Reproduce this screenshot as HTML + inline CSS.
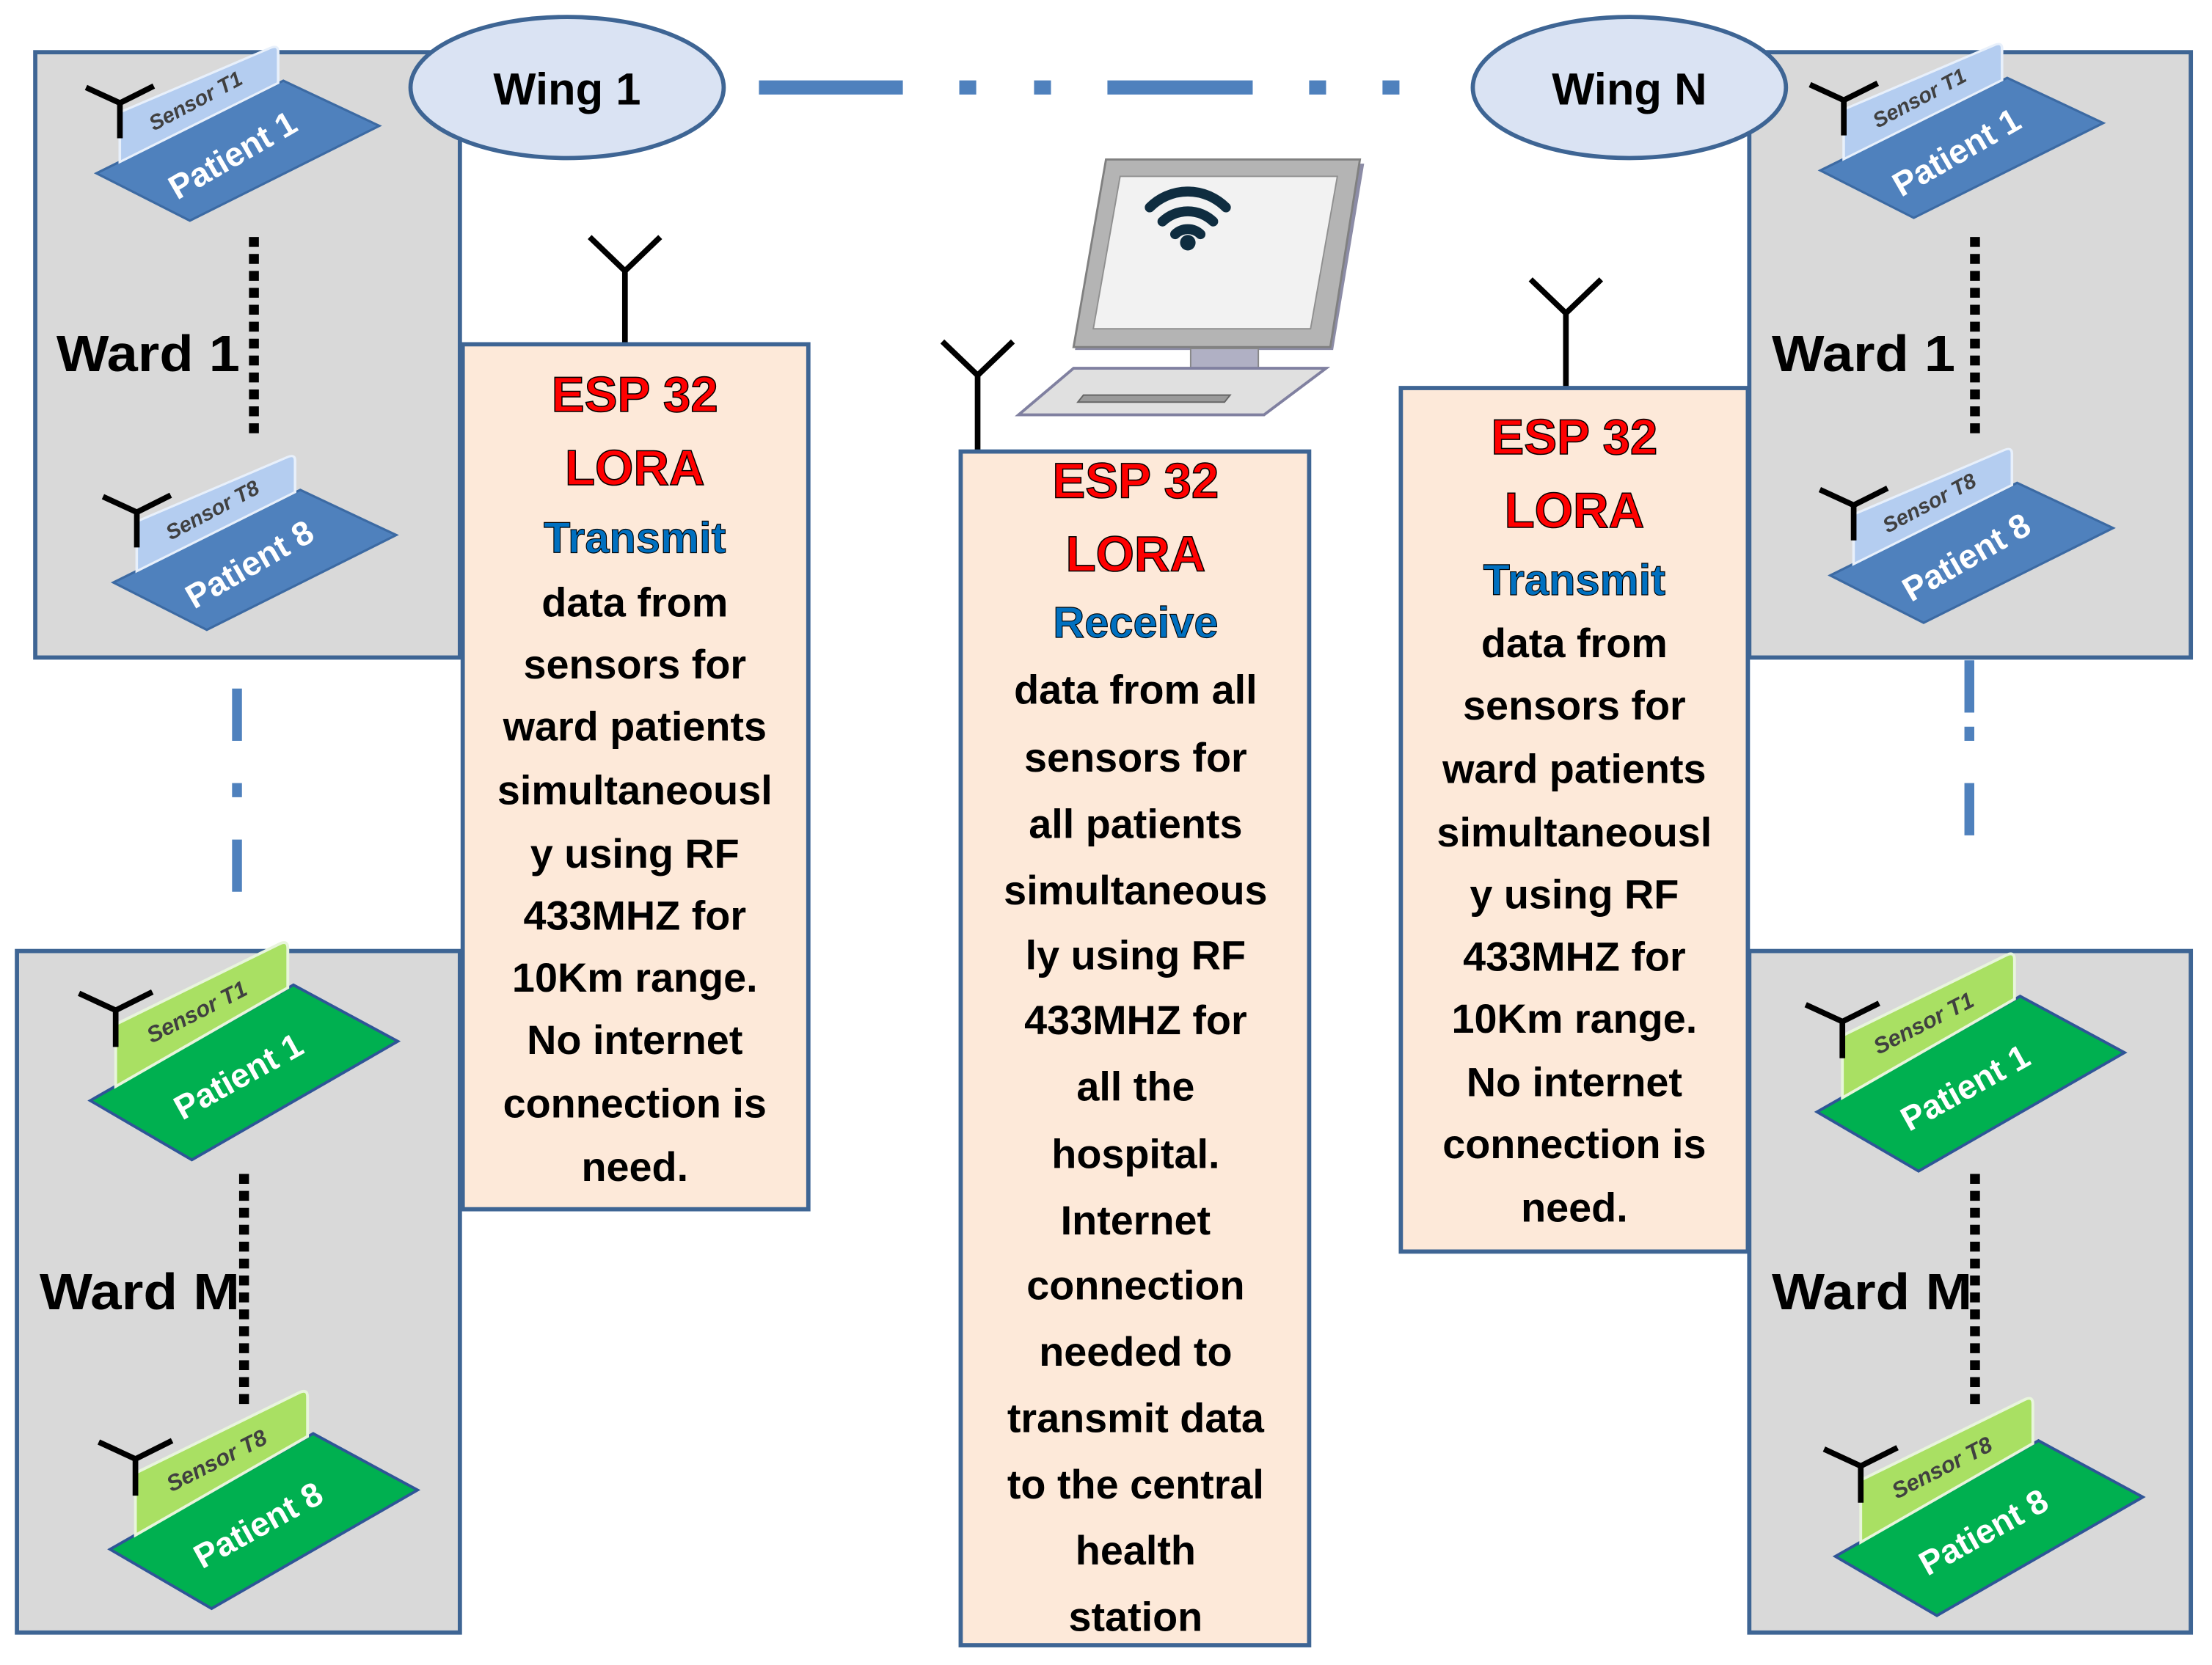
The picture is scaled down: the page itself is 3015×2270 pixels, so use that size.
<!DOCTYPE html>
<html><head><meta charset="utf-8"><style>
html,body{margin:0;padding:0;background:#fff}
svg{display:block}
text{font-family:"Liberation Sans",sans-serif;font-weight:bold}
</style></head><body>
<svg width="3015" height="2270" viewBox="0 0 1568 1180" preserveAspectRatio="none" xmlns="http://www.w3.org/2000/svg">
<defs>
<g id="cardG">
  <polygon points="8,76 152,-6 226,34 80,118" fill="#00b050" stroke="#2f5597" stroke-width="2"/>
  <path d="M26,66 L26,22 L142,-35 Q148,-38 148,-32 L148,-4 Z" fill="#a9e063" stroke="#e8f5dc" stroke-width="2"/>
  <polyline points="0,0 26,12 52,-1" fill="none" stroke="#000" stroke-width="4"/>
  <line x1="26" y1="12" x2="26" y2="38" stroke="#000" stroke-width="4"/>
</g>
<g id="baseB">
  <polygon points="8,76 152,-6 226,34 80,118" fill="#4f81bd" stroke="#3c6aa3" stroke-width="2"/>
  <path d="M26,66 L26,22 L142,-35 Q148,-38 148,-32 L148,-4 Z" fill="#b4cdf0" stroke="#e8f0fb" stroke-width="2"/>
</g>
</defs>

<!-- ward boxes -->
<rect x="25" y="37" width="301" height="429" fill="#d9d9d9" stroke="#3e6594" stroke-width="3"/>
<rect x="12" y="674" width="314" height="483" fill="#d9d9d9" stroke="#3e6594" stroke-width="3"/>
<rect x="1240" y="37" width="313" height="429" fill="#d9d9d9" stroke="#3e6594" stroke-width="3"/>
<rect x="1240" y="674" width="313" height="483" fill="#d9d9d9" stroke="#3e6594" stroke-width="3"/>

<!-- ellipses -->
<ellipse cx="402" cy="62" rx="111" ry="50" fill="#dae3f3" stroke="#3e6594" stroke-width="3"/>
<text x="402" y="74" font-size="32" text-anchor="middle" fill="#000">Wing 1</text>
<ellipse cx="1155" cy="62" rx="111" ry="50" fill="#dae3f3" stroke="#3e6594" stroke-width="3"/>
<text x="1155" y="74" font-size="32" text-anchor="middle" fill="#000">Wing N</text>

<!-- dashed connector -->
<g stroke="#4f81bd" stroke-width="10">
<line x1="538" y1="62" x2="640" y2="62"/><line x1="680" y1="62" x2="692" y2="62"/><line x1="733" y1="62" x2="745" y2="62"/>
<line x1="785" y1="62" x2="888" y2="62"/><line x1="928" y1="62" x2="940" y2="62"/><line x1="980" y1="62" x2="992" y2="62"/>
</g>
<g stroke="#4f81bd" stroke-width="7">
<line x1="168" y1="488" x2="168" y2="525"/><line x1="168" y1="555" x2="168" y2="565"/><line x1="168" y1="595" x2="168" y2="632"/>
<line x1="1396" y1="468" x2="1396" y2="505"/><line x1="1396" y1="515" x2="1396" y2="525"/><line x1="1396" y1="555" x2="1396" y2="592"/>
</g>

<!-- dotted black lines -->
<g stroke="#000" stroke-width="7" stroke-dasharray="7,5">
<line x1="180" y1="168" x2="180" y2="312"/>
<line x1="173" y1="832" x2="173" y2="995"/>
<line x1="1400" y1="168" x2="1400" y2="312"/>
<line x1="1400" y1="832" x2="1400" y2="995"/>
</g>

<text x="40" y="263" font-size="36" fill="#000" textLength="130" lengthAdjust="spacingAndGlyphs">Ward 1</text>
<text x="28" y="928" font-size="36" fill="#000" textLength="142" lengthAdjust="spacingAndGlyphs">Ward M</text>
<text x="1256" y="263" font-size="36" fill="#000" textLength="130" lengthAdjust="spacingAndGlyphs">Ward 1</text>
<text x="1256" y="928" font-size="36" fill="#000" textLength="142" lengthAdjust="spacingAndGlyphs">Ward M</text>

<!-- blue cards (scaled) -->
<g transform="translate(61,62)">
  <g transform="scale(0.92,0.8)"><use href="#baseB"/></g>
  <text x="80" y="14" transform="rotate(-28 80 14)" font-size="15" font-style="italic" font-weight="normal" fill="#404040" text-anchor="middle">Sensor T1</text>
  <text x="108" y="55" transform="rotate(-30 108 55)" font-size="24" fill="#fff" text-anchor="middle">Patient 1</text>
  <polyline points="0,0 24,11 48,-1" fill="none" stroke="#000" stroke-width="4"/><line x1="24" y1="11" x2="24" y2="36" stroke="#000" stroke-width="4"/>
</g>
<g transform="translate(73,352)">
  <g transform="scale(0.92,0.8)"><use href="#baseB"/></g>
  <text x="80" y="14" transform="rotate(-28 80 14)" font-size="15" font-style="italic" font-weight="normal" fill="#404040" text-anchor="middle">Sensor T8</text>
  <text x="108" y="55" transform="rotate(-30 108 55)" font-size="24" fill="#fff" text-anchor="middle">Patient 8</text>
  <polyline points="0,0 24,11 48,-1" fill="none" stroke="#000" stroke-width="4"/><line x1="24" y1="11" x2="24" y2="36" stroke="#000" stroke-width="4"/>
</g>
<g transform="translate(1283,60)">
  <g transform="scale(0.92,0.8)"><use href="#baseB"/></g>
  <text x="80" y="14" transform="rotate(-28 80 14)" font-size="15" font-style="italic" font-weight="normal" fill="#404040" text-anchor="middle">Sensor T1</text>
  <text x="108" y="55" transform="rotate(-30 108 55)" font-size="24" fill="#fff" text-anchor="middle">Patient 1</text>
  <polyline points="0,0 24,11 48,-1" fill="none" stroke="#000" stroke-width="4"/><line x1="24" y1="11" x2="24" y2="36" stroke="#000" stroke-width="4"/>
</g>
<g transform="translate(1290,347)">
  <g transform="scale(0.92,0.8)"><use href="#baseB"/></g>
  <text x="80" y="14" transform="rotate(-28 80 14)" font-size="15" font-style="italic" font-weight="normal" fill="#404040" text-anchor="middle">Sensor T8</text>
  <text x="108" y="55" transform="rotate(-30 108 55)" font-size="24" fill="#fff" text-anchor="middle">Patient 8</text>
  <polyline points="0,0 24,11 48,-1" fill="none" stroke="#000" stroke-width="4"/><line x1="24" y1="11" x2="24" y2="36" stroke="#000" stroke-width="4"/>
</g>

<g transform="translate(56,704)"><use href="#cardG"/><text x="86" y="18" transform="rotate(-27 86 18)" font-size="16" font-style="italic" font-weight="normal" fill="#404040" text-anchor="middle">Sensor T1</text><text x="117" y="66" transform="rotate(-29 117 66)" font-size="24" fill="#fff" text-anchor="middle">Patient 1</text></g>
<g transform="translate(70,1022)"><use href="#cardG"/><text x="86" y="18" transform="rotate(-27 86 18)" font-size="16" font-style="italic" font-weight="normal" fill="#404040" text-anchor="middle">Sensor T8</text><text x="117" y="66" transform="rotate(-29 117 66)" font-size="24" fill="#fff" text-anchor="middle">Patient 8</text></g>
<g transform="translate(1280,712)"><use href="#cardG"/><text x="86" y="18" transform="rotate(-27 86 18)" font-size="16" font-style="italic" font-weight="normal" fill="#404040" text-anchor="middle">Sensor T1</text><text x="117" y="66" transform="rotate(-29 117 66)" font-size="24" fill="#fff" text-anchor="middle">Patient 1</text></g>
<g transform="translate(1293,1027)"><use href="#cardG"/><text x="86" y="18" transform="rotate(-27 86 18)" font-size="16" font-style="italic" font-weight="normal" fill="#404040" text-anchor="middle">Sensor T8</text><text x="117" y="66" transform="rotate(-29 117 66)" font-size="24" fill="#fff" text-anchor="middle">Patient 8</text></g>

<!-- antennas for ESP boxes -->
<g stroke="#000" stroke-width="4" fill="none">
<polyline points="418,168 443,192 468,168"/><line x1="443" y1="192" x2="443" y2="244"/>
<polyline points="668,242 693,266 718,242"/><line x1="693" y1="266" x2="693" y2="320"/>
<polyline points="1085,198 1110,222 1135,198"/><line x1="1110" y1="222" x2="1110" y2="275"/>
</g>

<!-- ESP boxes -->
<rect x="328" y="244" width="245" height="613" fill="#fde9d9" stroke="#3e6594" stroke-width="3"/>
<rect x="681" y="320" width="247" height="846" fill="#fde9d9" stroke="#3e6594" stroke-width="3"/>
<rect x="993" y="275" width="246" height="612" fill="#fde9d9" stroke="#3e6594" stroke-width="3"/>

<g text-anchor="middle" dominant-baseline="central">
<g font-size="35" fill="#ff0000" stroke="#000" stroke-width="0.8">
<text x="450" y="280">ESP 32</text><text x="450" y="332">LORA</text>
<text x="805" y="341">ESP 32</text><text x="805" y="393">LORA</text>
<text x="1116" y="310">ESP 32</text><text x="1116" y="362">LORA</text>
</g>
<g font-size="31" fill="#0070c0" stroke="#000" stroke-width="0.6">
<text x="450" y="381">Transmit</text>
<text x="805" y="441">Receive</text>
<text x="1116" y="411">Transmit</text>
</g>
<g font-size="29" fill="#000">
<text x="450" y="427">data from</text>
<text x="450" y="471">sensors for</text>
<text x="450" y="515">ward patients</text>
<text x="450" y="560">simultaneousl</text>
<text x="450" y="605">y using RF</text>
<text x="450" y="649">433MHZ for</text>
<text x="450" y="693">10Km range.</text>
<text x="450" y="737">No  internet</text>
<text x="450" y="782">connection is</text>
<text x="450" y="827">need.</text>

<text x="1116" y="456">data from</text>
<text x="1116" y="500">sensors for</text>
<text x="1116" y="545">ward patients</text>
<text x="1116" y="590">simultaneousl</text>
<text x="1116" y="634">y using RF</text>
<text x="1116" y="678">433MHZ for</text>
<text x="1116" y="722">10Km range.</text>
<text x="1116" y="767">No  internet</text>
<text x="1116" y="811">connection is</text>
<text x="1116" y="856">need.</text>

<text x="805" y="489">data from all</text>
<text x="805" y="537">sensors for</text>
<text x="805" y="584">all patients</text>
<text x="805" y="631">simultaneous</text>
<text x="805" y="677">ly using RF</text>
<text x="805" y="723">433MHZ for</text>
<text x="805" y="770">all the</text>
<text x="805" y="818">hospital.</text>
<text x="805" y="865">Internet</text>
<text x="805" y="911">connection</text>
<text x="805" y="958">needed to</text>
<text x="805" y="1005">transmit data</text>
<text x="805" y="1052">to the central</text>
<text x="805" y="1099">health</text>
<text x="805" y="1146">station</text>
</g>
</g>

<!-- computer -->
<polygon points="786,116 967,116 945,248 762,248" fill="#8c8ca6"/>
<polygon points="784,113 964,113 943,246 761,246" fill="#b4b4b4" stroke="#808080" stroke-width="1.5"/>
<polygon points="794,125 948,125 929,233 775,233" fill="#f2f2f2" stroke="#909090" stroke-width="1"/>
<rect x="844" y="247" width="48" height="14" fill="#b0b0c4" stroke="#888" stroke-width="1"/>
<polygon points="761,261 940,261 896,294 722,294" fill="#e0e0e0" stroke="#8080a0" stroke-width="2"/>
<polygon points="768,280 872,280 868,285 764,285" fill="#9a9a9a" stroke="#666" stroke-width="1"/>
<g fill="none" stroke="#0f2d40" stroke-width="7" stroke-linecap="round">
<path d="M815,147 A38,38 0 0 1 869,147"/>
<path d="M824,157 A26,26 0 0 1 860,157"/>
<path d="M833,166 A13,13 0 0 1 851,166"/>
</g>
<circle cx="842" cy="172" r="5.5" fill="#0f2d40"/>
</svg>
</body></html>
